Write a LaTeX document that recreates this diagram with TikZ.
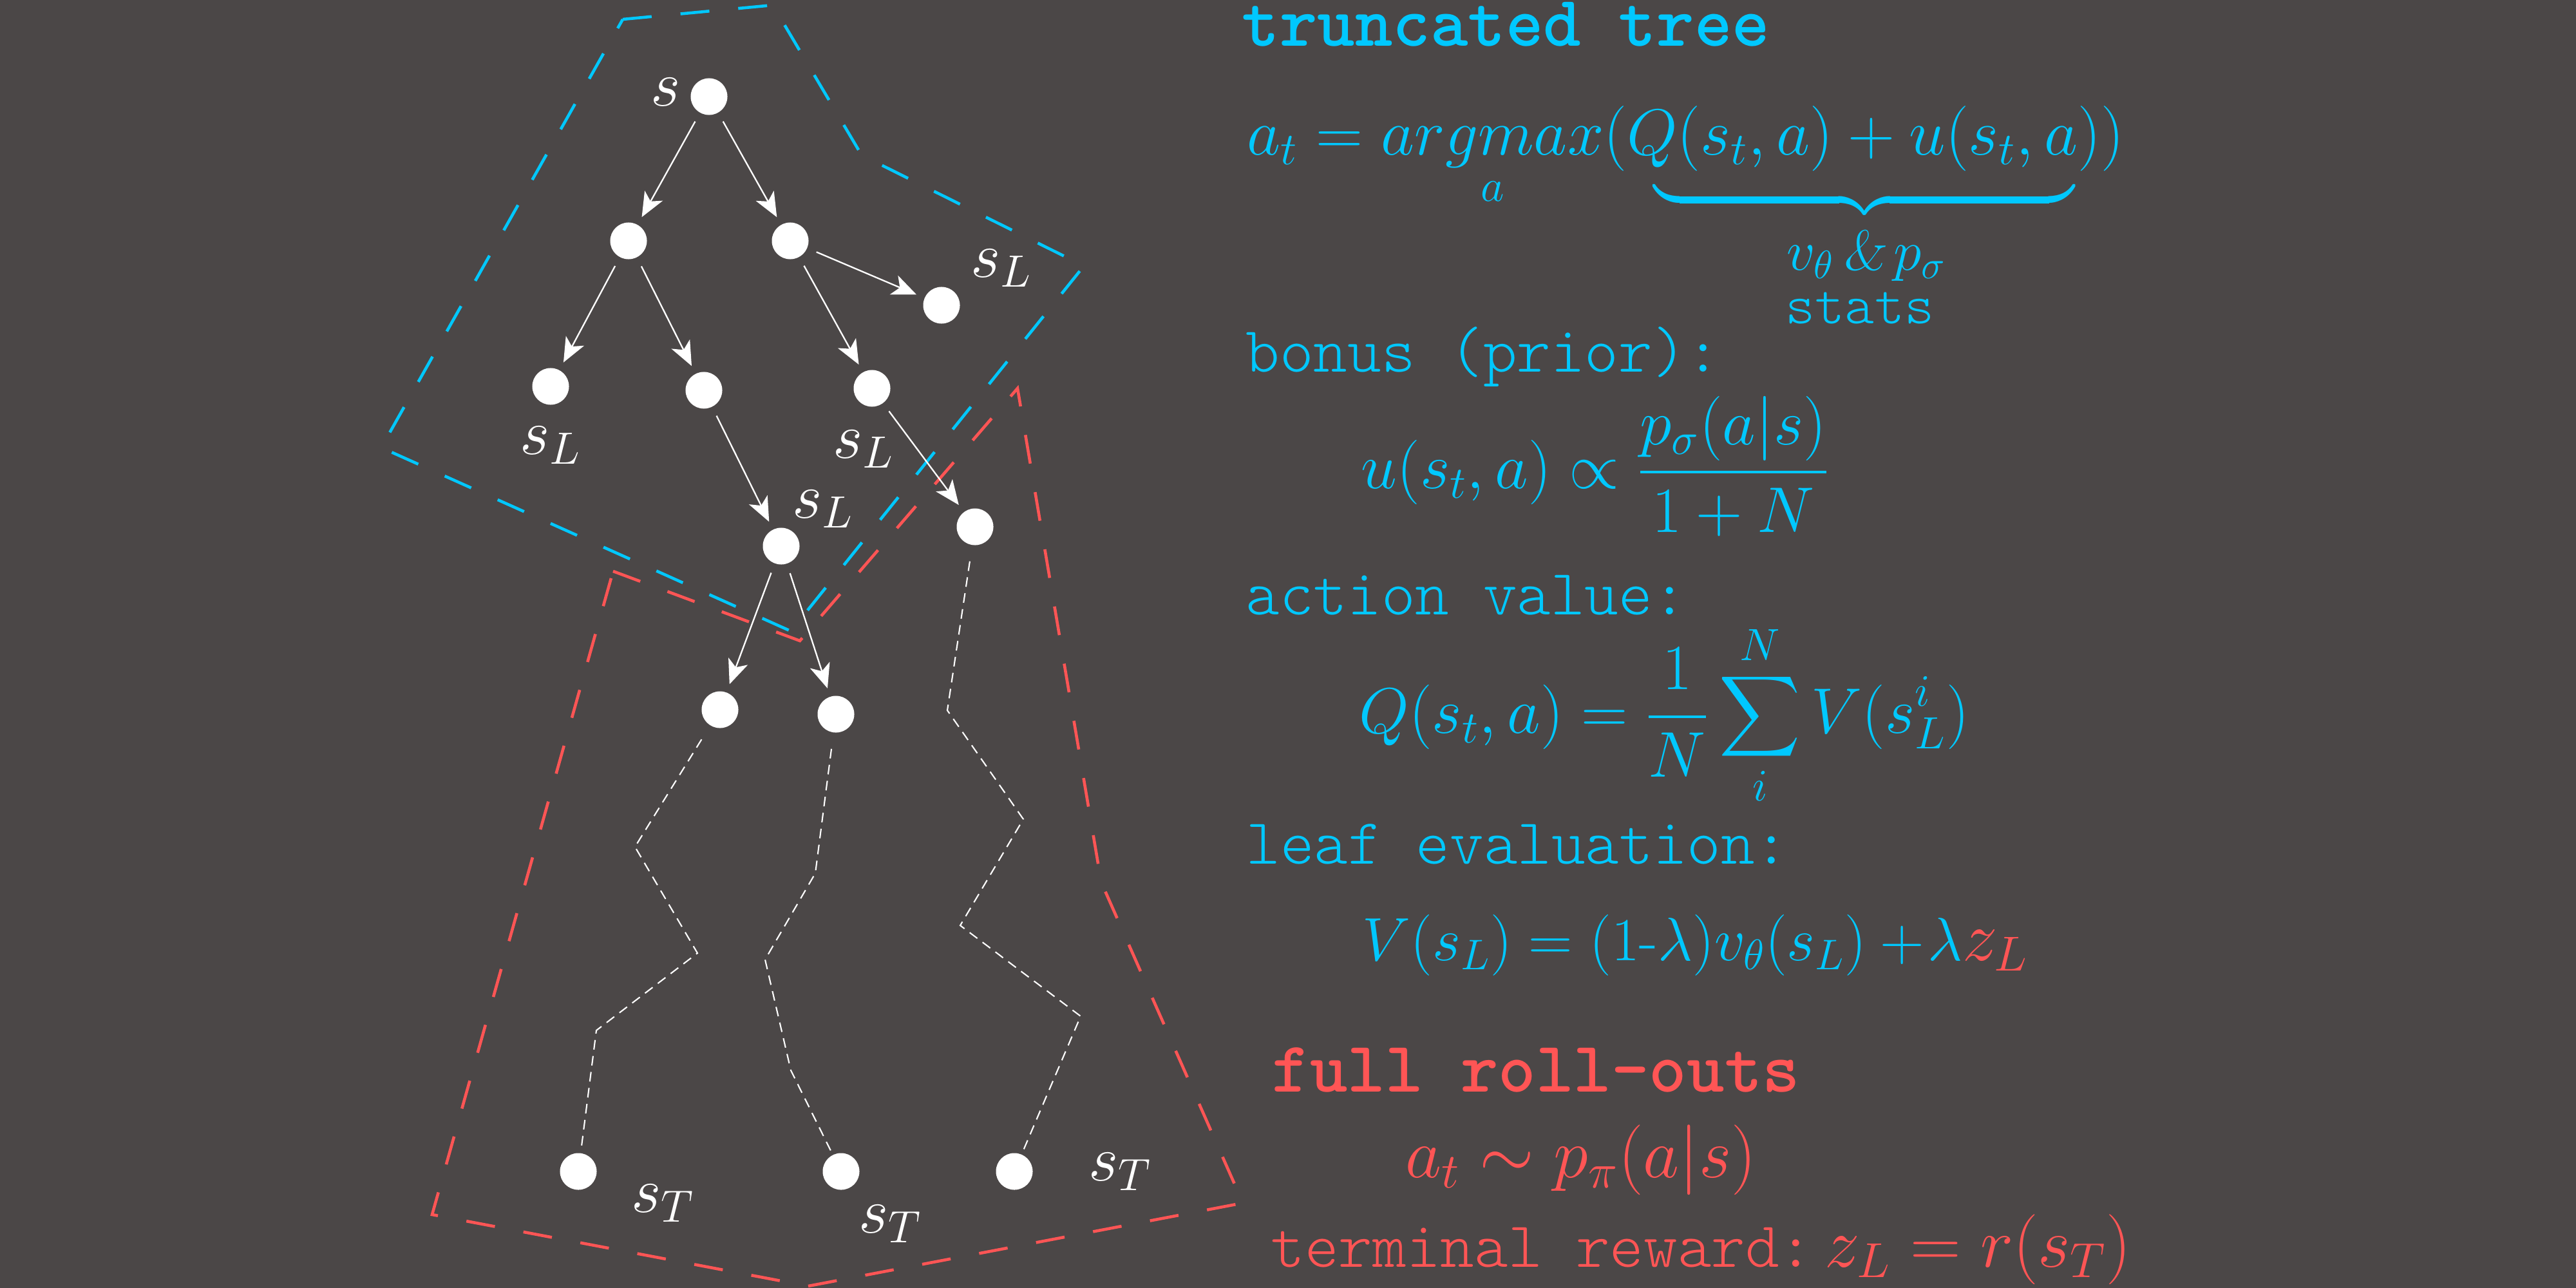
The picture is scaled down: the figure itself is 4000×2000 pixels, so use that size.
\documentclass[tikz,border=0pt]{standalone}
\usepackage{fix-cm}
\usepackage{amsmath}
\usetikzlibrary{arrows.meta}
\definecolor{bg}{RGB}{75,71,71}
\definecolor{cy}{RGB}{0,200,255}
\definecolor{rd}{RGB}{255,85,85}
\begin{document}
\begin{tikzpicture}[x=0.01cm,y=-0.01cm,
  st/.style={circle,fill=white,inner sep=0pt,minimum size=0.57cm},
  lab/.style={text=white,inner sep=0pt,anchor=base west,font=\fontsize{28.5}{34}\selectfont},
  arr/.style={draw=white,line width=0.65pt,-{Stealth[length=0.38cm,width=0.32cm,inset=0.1cm]},shorten <=0.15cm,shorten >=0.13cm},
  roll/.style={draw=white,line width=0.6pt,dash pattern=on 0.15cm off 0.1cm,shorten <=0.25cm,shorten >=0.03cm},
  region/.style={line width=1.3pt,dash pattern=on 0.45cm off 0.45cm},
  ttxt/.style={inner sep=0pt,anchor=base west,font=\fontsize{28.5}{34}\selectfont\ttfamily\fontseries{l}\selectfont},
  head/.style={inner sep=0pt,anchor=base west,font=\fontsize{31.7}{38}\selectfont\ttfamily\bfseries},
  mtxt/.style={inner sep=0pt,anchor=base west,font=\fontsize{28.5}{34}\selectfont},
  mred/.style={inner sep=0pt,anchor=base west,font=\fontsize{31}{37}\selectfont},
  small/.style={inner sep=0pt,anchor=base,font=\fontsize{25}{30}\selectfont}
]
\fill[bg] (0,0) rectangle (4000,2000);
\useasboundingbox (0,0) rectangle (4000,2000);

% regions
\draw[region,cy] (967,30) -- (1200,8) -- (1338,241) -- (1683,413) -- (1228,980) -- (592,695) -- cycle;
\draw[region,rd] (952,887) -- (1242,995) -- (1580,603) -- (1710,1370) -- (1930,1868) -- (1255,1997) -- (671,1886) -- cycle;

% tree nodes
\node[st] (root) at (1101,150) {};
\node[st] (a1) at (976,374) {};
\node[st] (b1) at (1227,374) {};
\node[st] (rl) at (1462,474) {};
\node[st] (a2) at (855,600) {};
\node[st] (b2) at (1093,606) {};
\node[st] (c2) at (1354,603) {};
\node[st] (a3) at (1213,848) {};
\node[st] (b3) at (1514,818) {};
\node[st] (a4) at (1118,1102) {};
\node[st] (b4) at (1298,1109) {};
\node[st] (t1) at (898,1819) {};
\node[st] (t2) at (1306,1819) {};
\node[st] (t3) at (1575,1819) {};

% labels
\node[lab] (ls) at (1010,165) {$s$};
\node[lab] (lrl) at (1507,430) {$s_L$};
\node[lab] (la2) at (807,705) {$s_L$};
\node[lab] (lc2) at (1293,711) {$s_L$};
\node[lab] (la3) at (1230,804) {$s_L$};
\node[lab] (lt1) at (980,1882) {$s_T$};
\node[lab] (lt2) at (1333,1914) {$s_T$};
\node[lab] (lt3) at (1690,1833) {$s_T$};

% arrows
\draw[arr] (root) -- (a1);
\draw[arr] (root) -- (b1);
\draw[arr] (a1) -- (a2);
\draw[arr] (a1) -- (b2);
\draw[arr] (b1) -- (rl);
\draw[arr] (b1) -- (c2);
\draw[arr] (b2) -- (a3);
\draw[arr] (c2) -- (b3);
\draw[arr] (a3) -- (a4);
\draw[arr] (a3) -- (b4);

% roll-outs
\draw[roll] (a4) -- (986,1315) -- (1083,1480) -- (926,1600) -- (t1);
\draw[roll] (b4) -- (1266,1356) -- (1188,1490) -- (1228,1662) -- (t2);
\draw[roll] (b3) -- (1471,1103) -- (1589,1272) -- (1491,1437) -- (1678,1578) -- (t3);

% right text
\node[head,text=cy] (title) at (1928,72) {truncated tree};
\node[mtxt,text=cy,font=\fontsize{28.8}{34}\selectfont] (eq1) at (1936,240) {$\displaystyle a_t = \mathop{argmax}\limits_{a}(Q(s_t,a)+u(s_t,a))$};
\node[inner sep=0pt,anchor=north,text=cy,font=\fontsize{28.5}{34}\selectfont] (brace) at (2895,294) {$\underbrace{\hbox to 6.52cm{}}$};
\node[small,text=cy] (vp) at (2898,419) {$v_\theta\,\textsl{\&}\,p_\sigma$};
\node[small,text=cy,font=\fontsize{25}{30}\selectfont\ttfamily\fontseries{l}\selectfont] (stats) at (2888,502) {stats};
\node[ttxt,text=cy] (bonus) at (1934,577) {bonus (prior):};
\node[mtxt,text=cy] (eq2) at (2113,758) {$\displaystyle u(s_t,a) \propto \frac{p_\sigma(a|s)}{1+N}$};
\node[ttxt,text=cy] (action) at (1934,954) {action value:};
\node[mtxt,text=cy] (eq3) at (2110,1138) {$\displaystyle Q(s_t,a) = \frac{1}{N}\sum_i^N V(s_L^i)$};
\node[ttxt,text=cy] (leaf) at (1935,1341) {leaf evaluation:};
\node[mtxt,text=cy,font=\fontsize{27}{32}\selectfont] (eq4) at (2115,1491) {$\displaystyle V(s_L) = (1\text{-}\lambda) v_\theta(s_L)+\!\lambda\mbox{\color{rd}\fontsize{31}{37}\selectfont$z_L$}$};
\node[head,text=rd] (full) at (1975,1695) {full roll-outs};
\node[mred,text=rd] (eq5) at (2182,1828) {$\displaystyle a_t \sim p_\pi(a|s)$};
\node[ttxt,text=rd] (term) at (1973,1967) {terminal reward:\fontsize{31}{37}\selectfont$\,z_L = r(s_T)$};
\end{tikzpicture}
\end{document}
